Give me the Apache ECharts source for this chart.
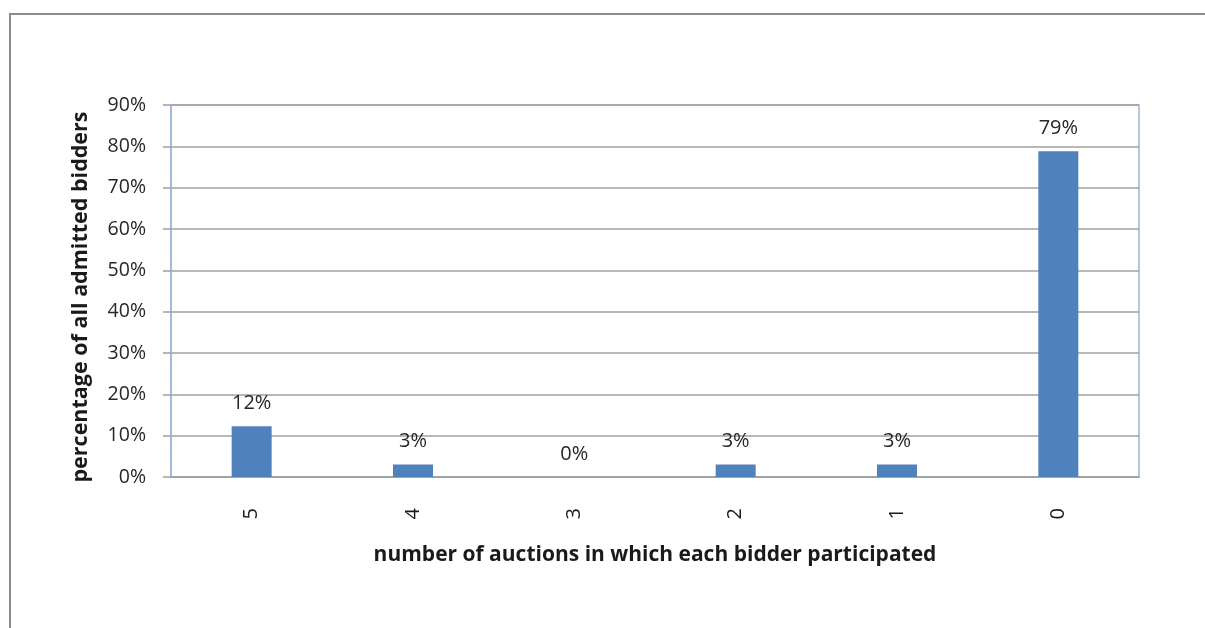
<!DOCTYPE html>
<html>
<head>
<meta charset="utf-8">
<script src="https://cdn.jsdelivr.net/npm/echarts@6/dist/echarts.min.js"></script>
<style>
html,body{margin:0;padding:0;background:#fff;}
#chart{width:1205px;height:628px;}
</style>
</head>
<body>
<div id="chart"></div>
<script>
var categories = ['5', '4', '3', '2', '1', '0'];
var shareValues = [12.3, 3.0, 0, 3.0, 3.0, 78.8];
var yTicks = { min: 0, max: 90, interval: 10 };
var xTitle = 'number of auctions in which each bidder participated';
var yTitle = 'percentage of all admitted bidders';

var FONT = '"Open Sans", "DejaVu Sans", sans-serif';
var chart = echarts.init(document.getElementById('chart'));
chart.setOption({
  backgroundColor: '#fff',
  animation: false,
  graphic: [{
    type: 'rect',
    shape: { x: 10, y: 14, width: 1220, height: 640 },
    style: { fill: 'none', stroke: '#8c8c8c', lineWidth: 2 },
    silent: true, z: -10
  }],
  grid: {
    left: 171, top: 105, right: 66, bottom: 151,
    show: true, borderColor: '#9cb6dc', borderWidth: 1.5, backgroundColor: 'transparent'
  },
  xAxis: {
    type: 'category',
    data: categories,
    name: xTitle,
    nameLocation: 'middle',
    nameGap: 68,
    nameTextStyle: { fontFamily: FONT, fontWeight: 'bold', fontSize: 21, color: '#1a1a1a' },
    axisLine: { show: true, lineStyle: { color: '#a0a0a0', width: 1.5 } },
    axisTick: { show: false },
    axisLabel: { rotate: 90, margin: 31, fontFamily: FONT, fontSize: 20, color: '#1a1a1a' }
  },
  yAxis: {
    type: 'value',
    min: yTicks.min, max: yTicks.max, interval: yTicks.interval,
    name: yTitle,
    nameLocation: 'middle',
    nameGap: 79,
    nameTextStyle: { fontFamily: FONT, fontWeight: 'bold', fontSize: 21.5, color: '#1a1a1a',
      padding: [0, 12, 0, 0] },
    axisLine: { show: true, lineStyle: { color: '#9cb6dc', width: 1.5 } },
    axisTick: { show: true, length: 8, inside: false, lineStyle: { color: '#a0a0a0', width: 1.5 } },
    axisLabel: { margin: 25, fontFamily: FONT, fontSize: 19.5, color: '#262626',
      formatter: function (v) { return v + '%'; } },
    splitLine: { show: true, lineStyle: { color: '#a0a0a0', width: 1.5 } }
  },
  series: [{
    type: 'bar',
    data: shareValues,
    barWidth: 40,
    itemStyle: { color: '#4f81bd' },
    label: {
      show: true, position: 'top', distance: 13,
      fontFamily: FONT, fontSize: 20, color: '#262626',
      formatter: function (p) { return Math.round(p.value) + '%'; }
    }
  }]
});
</script>
</body>
</html>
